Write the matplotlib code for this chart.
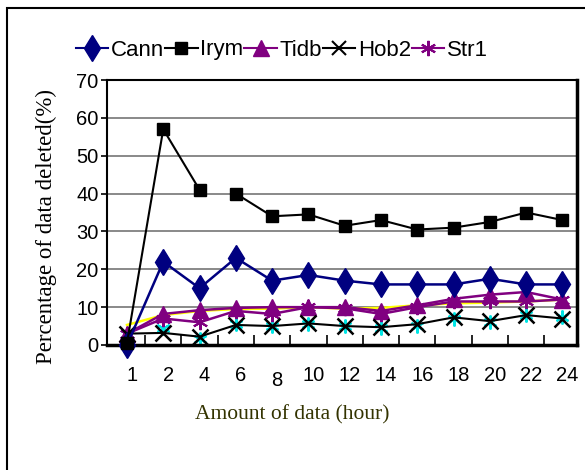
import matplotlib
matplotlib.use("Agg")
import matplotlib.pyplot as plt
import matplotlib.transforms as mtransforms
from matplotlib.patches import Rectangle
import numpy as np

hours = ["1", "2", "4", "6", "8", "10", "12", "14", "16", "18", "20", "22", "24"]
cann = [0, 22, 15, 23, 17, 18.5, 17, 16, 16, 16, 17.5, 16, 16]
irym = [0.5, 57, 41, 40, 34, 34.5, 31.5, 33, 30.5, 31, 32.5, 35, 33]
tidb = [3, 8.2, 9.2, 9.8, 10, 10, 10, 9, 10.5, 12.2, 13.3, 14, 12]
hob2 = [3, 3.2, 2.2, 5.3, 5, 5.7, 5, 4.7, 5.5, 7.3, 6.3, 7.9, 7]
str1 = [3, 7, 6, 9, 8.2, 10, 9.7, 8.2, 10, 11.5, 11.5, 11.5, 12]
extra_yellow = [5.3, 7.9, 9, 9.5, 9.6, 10, 9.6, 9.8, 10.5, 11, 11.2, 11.5, 12]
extra_cyan = [3, 4.5, 1.5, 5.5, 5, 5.5, 5, 4.5, 5, 7, 6, 7.8, 7.5]
names = ["Cann", "Irym", "Tidb", "Hob2", "Str1"]

plt.rcParams['font.family'] = ['Liberation Sans', 'DejaVu Sans']

fig = plt.figure(figsize=(5.85, 4.7), dpi=100)
fig.patches.append(Rectangle((7 / 585, -0.1), 1.1, 0.983 + 0.1, transform=fig.transFigure,
                             fill=False, edgecolor='black', linewidth=1.5))

ax = fig.add_axes([107 / 585, 125 / 470, 470 / 585, 265 / 470])
x = np.arange(len(hours))

ax.plot(x, extra_yellow, color='#ffff00', lw=1.8, zorder=2, clip_on=False)
ax.plot(x, extra_cyan, color='#00e5e5', lw=0, marker=(6, 2, 0), ms=10, mew=1.5, zorder=2, clip_on=False)
ax.plot(x, str1, color='#800080', lw=1.8, marker=(6, 2, 0), ms=11, mew=1.5, zorder=3, clip_on=False)
ax.plot(x, tidb, color='#800080', lw=1.8, marker='^', ms=12, zorder=3, clip_on=False)
ax.plot(x, hob2, color='black', lw=1.5, marker='x', ms=11, mew=1.8, zorder=4, clip_on=False)
ax.plot(x, cann, color='#000080', lw=1.8, marker='d', ms=13, zorder=5, clip_on=False)
# Irym line is broken between 4 and 6 hours
ax.plot(x[:3], irym[:3], color='black', lw=1.5, marker='s', ms=8, zorder=6, clip_on=False)
ax.plot(x[3:], irym[3:], color='black', lw=1.5, marker='s', ms=8, zorder=6, clip_on=False)

ax.set_xlim(-0.55, 12.4)
ax.set_ylim(0, 70)
ax.set_yticks(range(0, 71, 10))
ax.grid(axis='y', color='#808080', lw=1.3)
ax.set_axisbelow(True)
ax.tick_params(axis='y', direction='out', length=4, width=1.2, labelsize=14.5, pad=2)

ax.set_xticks(x)
ax.set_xticklabels(hours)
ax.set_xticks(x[:-1] + 0.5, minor=True)
ax.tick_params(axis='x', which='major', length=0, labelsize=14.5, pad=15)
ax.tick_params(axis='x', which='minor', direction='in', length=7, width=1.2)
for i, lab in enumerate(ax.get_xticklabels()):
    dy = -4 / 72 if hours[i] == "8" else 0
    lab.set_transform(lab.get_transform() + mtransforms.ScaledTranslation(5 / 100, dy, fig.dpi_scale_trans))

for side in ['left', 'top']:
    ax.spines[side].set_linewidth(1.5)
for side in ['right', 'bottom']:
    ax.spines[side].set_linewidth(2.5)

fig.text(46 / 585, 1 - 226 / 470, "Percentage of data deleted(%)", rotation=90,
         ha='center', va='center', family='Liberation Serif', fontsize=16.5)
fig.text(292 / 585, 1 - 415 / 470, "Amount of data (hour)", ha='center', va='center',
         family='Liberation Serif', fontsize=15.5, color='#333300')

handles = [
    plt.Line2D([], [], color='#000080', lw=1.5, marker='d', ms=13),
    plt.Line2D([], [], color='black', lw=1.5, marker='s', ms=8),
    plt.Line2D([], [], color='#800080', lw=1.5, marker='^', ms=12),
    plt.Line2D([], [], color='black', lw=1.5, marker='x', ms=10, mew=1.5),
    plt.Line2D([], [], color='#800080', lw=1.5, marker=(6, 2, 0), ms=11, mew=1.5),
]
fig.legend(handles, names, loc='center', bbox_to_anchor=(282 / 585, 1 - 50 / 470), ncol=5,
           frameon=False, fontsize=16, handlelength=1.45, handletextpad=0.12,
           columnspacing=0.05, borderpad=0)

fig.savefig("out.png", dpi=100)
